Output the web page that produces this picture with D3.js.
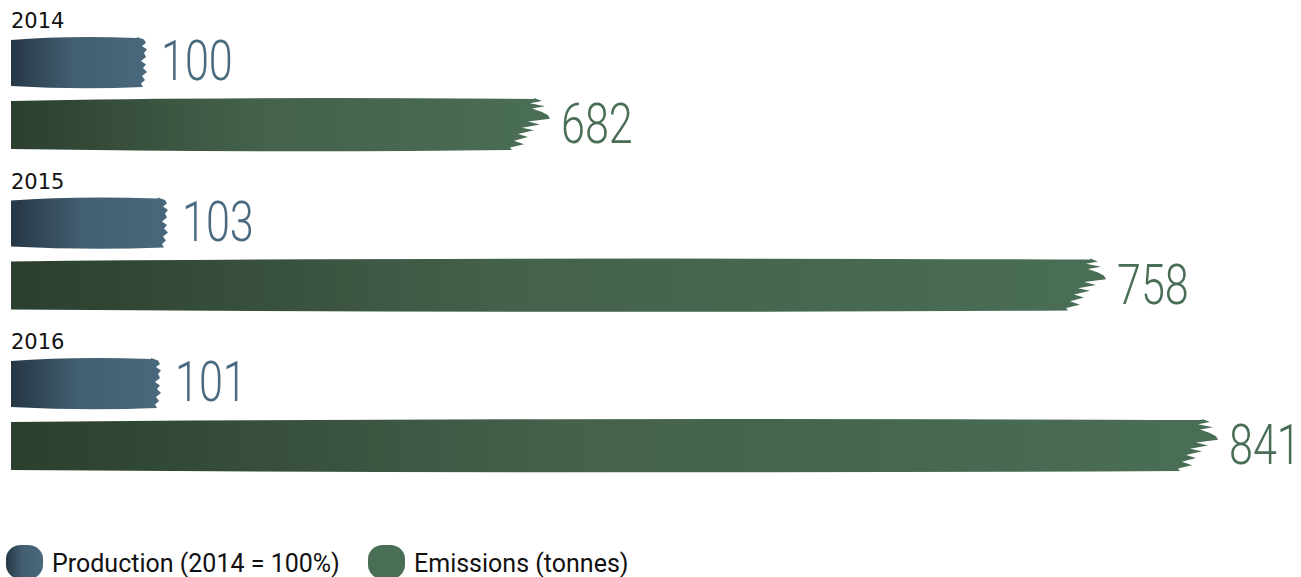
<!DOCTYPE html>
<html>
<head>
<meta charset="utf-8">
<script src="https://d3js.org/d3.v7.min.js"></script>
<style>
  body { margin: 0; background: #fff; }
  svg { display: block; }
</style>
</head>
<body>
<div id="chart"></div>
<script>
// data
var years = ["2014", "2015", "2016"];
var production = [100, 103, 101];   // 2014 = 100%
var emissions = [682, 758, 841];    // tonnes
var legendLabels = ["Production (2014 = 100%)", "Emissions (tonnes)"];

var width = 1301, height = 577;
var left = 11;

var svg = d3.select("#chart").append("svg")
  .attr("width", width).attr("height", height);

var defs = svg.append("defs");
function grad(id, c0, c1, c2) {
  var g = defs.append("linearGradient").attr("id", id)
    .attr("x1", 0).attr("x2", 1).attr("y1", 0).attr("y2", 0);
  g.append("stop").attr("offset", 0).attr("stop-color", c0);
  g.append("stop").attr("offset", 0.45).attr("stop-color", c1);
  g.append("stop").attr("offset", 1).attr("stop-color", c2);
}
grad("gProd", "#263745", "#435f72", "#4a687c");
grad("gEmis", "#2b3f2f", "#44614b", "#4a6e55");

// scales (the drawn lengths are pictorial, so the scales are piecewise)
var yPos = d3.scaleLinear().domain([0, years.length - 1]).range([0, 321]);
var xProd = d3.scaleLinear().domain([100, 101, 103]).range([136, 150, 157]);
var xEmis = d3.scaleLinear().domain([682, 758, 841]).range([539, 1095, 1207]);

// brush stroke end shapes  [fraction of height, x offset from bar end]
var prodEnd = [[0, -10], [0.05, -3], [0.12, -1], [0.18, -5], [0.25, 0], [0.32, -3], [0.4, -1],
  [0.48, -6], [0.55, -1], [0.62, -4], [0.7, 0], [0.78, -5], [0.86, -2], [0.93, -6], [1, -4]];
var emisEnd = [[0, -16], [0.06, -8], [0.1, -20], [0.16, -5], [0.2, -18], [0.27, -8], [0.33, -2],
  [0.4, 0], [0.45, -22], [0.51, -10], [0.57, -28], [0.62, -16], [0.69, -32], [0.75, -22],
  [0.82, -36], [0.89, -26], [0.95, -40], [1, -38]];

function strokePath(w, t, h, end, wave) {
  var p = d3.path();
  p.moveTo(0, t + wave);
  p.quadraticCurveTo(w * 0.4, t - wave * 0.5, w + end[0][1], t + 1);
  end.forEach(function (e) { p.lineTo(w + e[1], t + e[0] * h); });
  p.quadraticCurveTo(w * 0.5, t + h + wave, 0, t + h - wave * 0.3);
  p.closePath();
  return p.toString();
}

var groups = svg.selectAll("g.year").data(years).enter().append("g")
  .attr("class", "year")
  .attr("transform", function (d, i) { return "translate(" + left + "," + yPos(i) + ")"; });

groups.append("text")
  .attr("x", 0).attr("y", 28)
  .attr("font-family", "DejaVu Sans, sans-serif").attr("font-size", 21)
  .attr("fill", "#111")
  .text(function (d) { return d; });

// production bars
groups.append("path")
  .attr("d", function (d, i) { return strokePath(xProd(production[i]), 37, 50, prodEnd, 3); })
  .attr("fill", "url(#gProd)");
groups.append("text")
  .attr("transform", function (d, i) { return "translate(" + (xProd(production[i]) + 14) + ",80) scale(0.77,1)"; })
  .attr("font-family", "Roboto, sans-serif").attr("font-weight", 300).attr("font-size", 56)
  .attr("fill", "#4a6a80")
  .text(function (d, i) { return production[i]; });

// emission bars
groups.append("path")
  .attr("d", function (d, i) { return strokePath(xEmis(emissions[i]), 98, 52, emisEnd, 3); })
  .attr("fill", "url(#gEmis)");
groups.append("text")
  .attr("transform", function (d, i) { return "translate(" + (xEmis(emissions[i]) + 11) + ",143) scale(0.77,1)"; })
  .attr("font-family", "Roboto, sans-serif").attr("font-weight", 300).attr("font-size", 56)
  .attr("fill", "#4a6e55")
  .text(function (d, i) { return emissions[i]; });

// legend
var legend = svg.append("g").attr("transform", "translate(0,545)");
var legX = [6, 368];
var legFill = ["url(#gProd)", "#4a6e55"];
legendLabels.forEach(function (lab, i) {
  var g = legend.append("g").attr("transform", "translate(" + legX[i] + ",0)");
  g.append("rect").attr("x", 0).attr("y", 0).attr("width", 37).attr("height", 34)
    .attr("rx", 15).attr("ry", 14).attr("fill", legFill[i]);
  g.append("text")
    .attr("transform", "translate(46,27)")
    .attr("font-family", "Roboto, sans-serif").attr("font-size", 25)
    .attr("fill", "#111").text(lab);
});
</script>
</body>
</html>
